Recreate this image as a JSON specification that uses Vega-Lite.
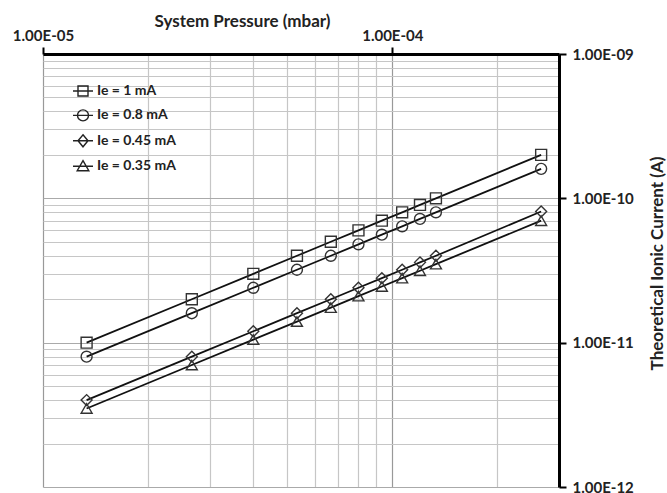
{
  "$schema": "https://vega.github.io/schema/vega-lite/v6.json",
  "width": 516,
  "height": 433,
  "autosize": {"type": "none"},
  "padding": {"left": 43, "top": 54, "right": 108, "bottom": 6},
  "background": "white",
  "config": {"view": {"stroke": null}, "font": "Lato"},
  "data": {"values": [
    {"series": "Ie = 1 mA", "p": 1.333e-5, "i": 1.0e-11},
    {"series": "Ie = 1 mA", "p": 2.667e-5, "i": 2.0e-11},
    {"series": "Ie = 1 mA", "p": 4.0e-5, "i": 3.0e-11},
    {"series": "Ie = 1 mA", "p": 5.333e-5, "i": 4.0e-11},
    {"series": "Ie = 1 mA", "p": 6.667e-5, "i": 5.0e-11},
    {"series": "Ie = 1 mA", "p": 8.0e-5, "i": 6.0e-11},
    {"series": "Ie = 1 mA", "p": 9.333e-5, "i": 7.0e-11},
    {"series": "Ie = 1 mA", "p": 1.067e-4, "i": 8.0e-11},
    {"series": "Ie = 1 mA", "p": 1.2e-4, "i": 9.0e-11},
    {"series": "Ie = 1 mA", "p": 1.333e-4, "i": 1.0e-10},
    {"series": "Ie = 1 mA", "p": 2.667e-4, "i": 2.0e-10},
    {"series": "Ie = 0.8 mA", "p": 1.333e-5, "i": 8.0e-12},
    {"series": "Ie = 0.8 mA", "p": 2.667e-5, "i": 1.6e-11},
    {"series": "Ie = 0.8 mA", "p": 4.0e-5, "i": 2.4e-11},
    {"series": "Ie = 0.8 mA", "p": 5.333e-5, "i": 3.2e-11},
    {"series": "Ie = 0.8 mA", "p": 6.667e-5, "i": 4.0e-11},
    {"series": "Ie = 0.8 mA", "p": 8.0e-5, "i": 4.8e-11},
    {"series": "Ie = 0.8 mA", "p": 9.333e-5, "i": 5.6e-11},
    {"series": "Ie = 0.8 mA", "p": 1.067e-4, "i": 6.4e-11},
    {"series": "Ie = 0.8 mA", "p": 1.2e-4, "i": 7.2e-11},
    {"series": "Ie = 0.8 mA", "p": 1.333e-4, "i": 8.0e-11},
    {"series": "Ie = 0.8 mA", "p": 2.667e-4, "i": 1.6e-10},
    {"series": "Ie = 0.45 mA", "p": 1.333e-5, "i": 4.0e-12},
    {"series": "Ie = 0.45 mA", "p": 2.667e-5, "i": 8.0e-12},
    {"series": "Ie = 0.45 mA", "p": 4.0e-5, "i": 1.2e-11},
    {"series": "Ie = 0.45 mA", "p": 5.333e-5, "i": 1.6e-11},
    {"series": "Ie = 0.45 mA", "p": 6.667e-5, "i": 2.0e-11},
    {"series": "Ie = 0.45 mA", "p": 8.0e-5, "i": 2.4e-11},
    {"series": "Ie = 0.45 mA", "p": 9.333e-5, "i": 2.8e-11},
    {"series": "Ie = 0.45 mA", "p": 1.067e-4, "i": 3.2e-11},
    {"series": "Ie = 0.45 mA", "p": 1.2e-4, "i": 3.6e-11},
    {"series": "Ie = 0.45 mA", "p": 1.333e-4, "i": 4.0e-11},
    {"series": "Ie = 0.45 mA", "p": 2.667e-4, "i": 8.1e-11},
    {"series": "Ie = 0.35 mA", "p": 1.333e-5, "i": 3.5e-12},
    {"series": "Ie = 0.35 mA", "p": 2.667e-5, "i": 7.0e-12},
    {"series": "Ie = 0.35 mA", "p": 4.0e-5, "i": 1.05e-11},
    {"series": "Ie = 0.35 mA", "p": 5.333e-5, "i": 1.4e-11},
    {"series": "Ie = 0.35 mA", "p": 6.667e-5, "i": 1.75e-11},
    {"series": "Ie = 0.35 mA", "p": 8.0e-5, "i": 2.1e-11},
    {"series": "Ie = 0.35 mA", "p": 9.333e-5, "i": 2.45e-11},
    {"series": "Ie = 0.35 mA", "p": 1.067e-4, "i": 2.8e-11},
    {"series": "Ie = 0.35 mA", "p": 1.2e-4, "i": 3.15e-11},
    {"series": "Ie = 0.35 mA", "p": 1.333e-4, "i": 3.5e-11},
    {"series": "Ie = 0.35 mA", "p": 2.667e-4, "i": 7.0e-11}
  ]},
  "encoding": {
    "x": {
      "field": "p", "type": "quantitative",
      "scale": {"type": "log", "domain": [1e-5, 3e-4], "nice": false},
      "axis": {
        "orient": "top",
        "values": [1e-5, 2e-5, 3e-5, 4e-5, 5e-5, 6e-5, 7e-5, 8e-5, 9e-5, 1e-4, 2e-4, 3e-4],
        "title": "System Pressure (mbar)",
        "titleFontSize": 17, "titleFontWeight": "bold", "titleColor": "#222",
        "titleX": 199, "titleY": -28, "titleAlign": "center", "titleBaseline": "alphabetic",
        "labelExpr": "abs(log(datum.value)/LN10 - round(log(datum.value)/LN10)) < 0.01 ? '1.00E-' + (abs(round(log(datum.value)/LN10)) < 10 ? '0' : '') + abs(round(log(datum.value)/LN10)) : ''",
        "labelFontSize": 15, "labelFontWeight": "bold", "labelColor": "#222",
        "labelFlush": false, "labelOverlap": false, "labelPadding": 7, "labelBaseline": "alphabetic",
        "tickSize": 7, "tickWidth": 2, "tickColor": "black",
        "tickOpacity": {"condition": {"test": "abs(log(datum.value)/LN10 - round(log(datum.value)/LN10)) < 0.01", "value": 1}, "value": 0},
        "domainColor": "black", "domainWidth": 3,
        "grid": true,
        "gridColor": {"condition": {"test": "abs(log(datum.value)/LN10 - round(log(datum.value)/LN10)) < 0.01", "value": "#999999"}, "value": "#c6c6c6"},
        "gridWidth": 1.2
      }
    },
    "y": {
      "field": "i", "type": "quantitative",
      "scale": {"type": "log", "domain": [1e-12, 1e-9], "nice": false},
      "axis": {
        "orient": "right",
        "values": [1e-12, 2e-12, 3e-12, 4e-12, 5e-12, 6e-12, 7e-12, 8e-12, 9e-12, 1e-11, 2e-11, 3e-11, 4e-11, 5e-11, 6e-11, 7e-11, 8e-11, 9e-11, 1e-10, 2e-10, 3e-10, 4e-10, 5e-10, 6e-10, 7e-10, 8e-10, 9e-10, 1e-9],
        "title": "Theoretical  Ionic Current (A)",
        "titleFontSize": 17, "titleFontWeight": "bold", "titleColor": "#222",
        "titleAngle": 270, "titleX": 98, "titleY": 209, "titleAlign": "center", "titleBaseline": "middle",
        "labelExpr": "abs(log(datum.value)/LN10 - round(log(datum.value)/LN10)) < 0.01 ? '1.00E-' + (abs(round(log(datum.value)/LN10)) < 10 ? '0' : '') + abs(round(log(datum.value)/LN10)) : ''",
        "labelFontSize": 15, "labelFontWeight": "bold", "labelColor": "#222",
        "labelFlush": false, "labelOverlap": false, "labelPadding": 6,
        "tickSize": 7, "tickWidth": 2, "tickColor": "black",
        "tickOpacity": {"condition": {"test": "abs(log(datum.value)/LN10 - round(log(datum.value)/LN10)) < 0.01", "value": 1}, "value": 0},
        "domainColor": "black", "domainWidth": 3,
        "grid": true,
        "gridColor": {"condition": {"test": "abs(log(datum.value)/LN10 - round(log(datum.value)/LN10)) < 0.01", "value": "#aaaaaa"}, "value": "#c6c6c6"},
        "gridWidth": 1.2
      }
    }
  },
  "layer": [
    {
      "mark": {"type": "line", "color": "#111", "strokeWidth": 1.8},
      "encoding": {"detail": {"field": "series"}}
    },
    {
      "mark": {"type": "point", "filled": false, "color": "#333", "strokeWidth": 1.4, "opacity": 1, "size": 120},
      "encoding": {
        "shape": {
          "field": "series", "type": "nominal",
          "scale": {"domain": ["Ie = 1 mA", "Ie = 0.8 mA", "Ie = 0.45 mA", "Ie = 0.35 mA"], "range": ["square", "circle", "diamond", "triangle-up"]},
          "legend": null
        }
      }
    },
    {
      "mark": {"type": "point", "filled": false, "color": "#222", "strokeWidth": 1.4, "opacity": 0, "size": 400},
      "encoding": {
        "shape": {
          "field": "series", "type": "nominal",
          "scale": {"domain": ["Ie = 1 mA", "Ie = 0.8 mA", "Ie = 0.45 mA", "Ie = 0.35 mA"], "range": [
            "M-1,0H1M-0.5,-0.5H0.5V0.5H-0.5Z",
            "M-0.55,0A0.55,0.55 0 1,0 0.55,0A0.55,0.55 0 1,0 -0.55,0ZM-1,0H1",
            "M-1,0H1M0,-0.6L0.5,0L0,0.6L-0.5,0Z",
            "M-1,0H1M0,-0.55L0.58,0.45L-0.58,0.45Z"
          ]},
          "legend": {
            "orient": "none", "legendX": 29, "legendY": 26, "title": null,
            "padding": 0, "symbolSize": 400, "symbolStrokeWidth": 1.4,
            "symbolStrokeColor": "#222", "symbolFillColor": "transparent", "symbolOpacity": 1,
            "labelFontSize": 14, "labelFontWeight": "bold", "labelColor": "#222",
            "labelOffset": 3, "rowPadding": 5.4
          }
        }
      }
    }
  ],
  "resolve": {"scale": {"shape": "independent"}, "legend": {"shape": "independent"}}
}
